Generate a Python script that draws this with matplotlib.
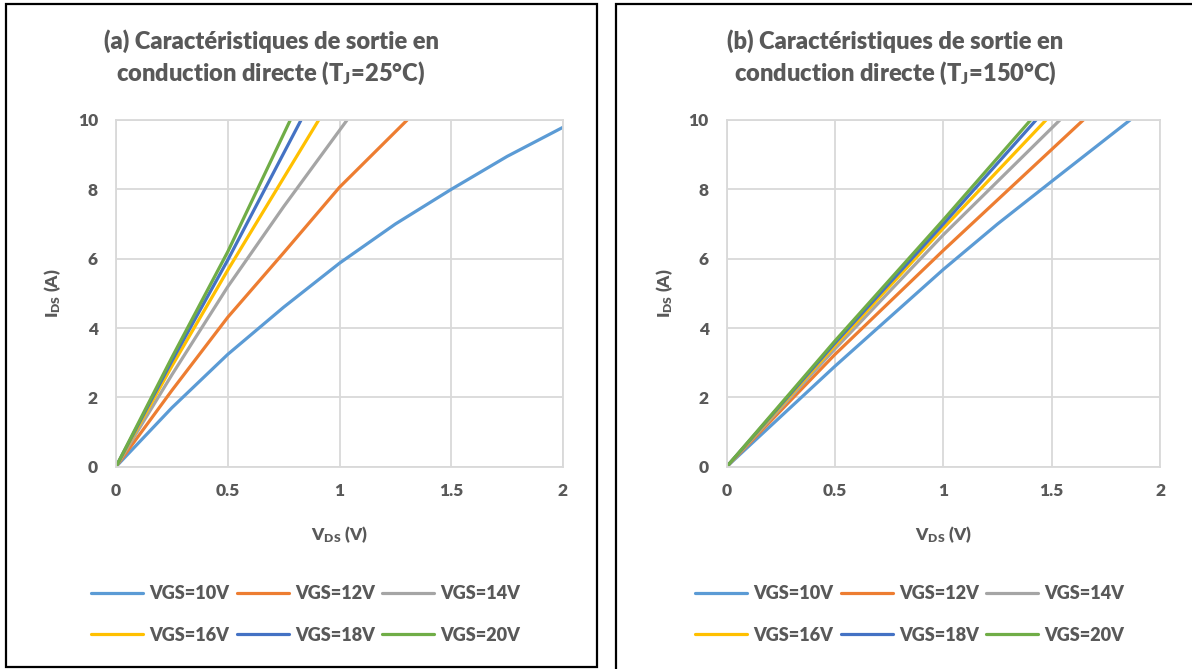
import matplotlib
matplotlib.use("Agg")
import matplotlib.pyplot as plt
from matplotlib.patches import Rectangle

plt.rcParams["font.family"] = ["Lato", "DejaVu Sans"]
plt.rcParams["font.weight"] = "heavy"
plt.rcParams["mathtext.default"] = "regular"

TEXT = "#595959"
GRID = "#d9d9d9"
WT = "heavy"

labels = ["VGS=10V", "VGS=12V", "VGS=14V", "VGS=16V", "VGS=18V", "VGS=20V"]
colors = ["#5B9BD5", "#ED7D31", "#A5A5A5", "#FFC000", "#4472C4", "#70AD47"]

# (a) Tj = 25 C  -- V_DS (V), I_DS (A)
v25_10 = [0, 0.25, 0.5, 0.75, 1.0, 1.25, 1.5, 1.75, 2.0]
i25_10 = [0, 1.7, 3.24, 4.6, 5.87, 7.0, 8.0, 8.95, 9.79]
v25_12 = [0, 0.25, 0.5, 0.75, 1.0, 1.303]
i25_12 = [0, 2.2, 4.31, 6.17, 8.06, 10.0]
v25_14 = [0, 0.25, 0.5, 0.75, 1.034]
i25_14 = [0, 2.65, 5.19, 7.5, 10.0]
v25_16 = [0, 0.25, 0.5, 0.75, 0.907]
i25_16 = [0, 2.9, 5.67, 8.33, 10.0]
v25_18 = [0, 0.25, 0.5, 0.828]
i25_18 = [0, 3.05, 5.96, 10.0]
v25_20 = [0, 0.25, 0.5, 0.78]
i25_20 = [0, 3.15, 6.2, 10.0]

# (b) Tj = 150 C
v150_10 = [0, 0.5, 1.0, 1.25, 1.5, 1.862]
i150_10 = [0, 2.9, 5.69, 7.0, 8.23, 10.0]
v150_12 = [0, 0.5, 1.0, 1.646]
i150_12 = [0, 3.24, 6.24, 10.0]
v150_14 = [0, 0.5, 1.0, 1.538]
i150_14 = [0, 3.4, 6.69, 10.0]
v150_16 = [0, 0.5, 1.0, 1.474]
i150_16 = [0, 3.5, 6.88, 10.0]
v150_18 = [0, 0.5, 1.0, 1.428]
i150_18 = [0, 3.57, 7.0, 10.0]
v150_20 = [0, 0.5, 1.0, 1.403]
i150_20 = [0, 3.63, 7.12, 10.0]

curves_25 = [(v25_10, i25_10), (v25_12, i25_12), (v25_14, i25_14),
             (v25_16, i25_16), (v25_18, i25_18), (v25_20, i25_20)]
curves_150 = [(v150_10, i150_10), (v150_12, i150_12), (v150_14, i150_14),
              (v150_16, i150_16), (v150_18, i150_18), (v150_20, i150_20)]

W, H = 1192, 669
fig = plt.figure(figsize=(W / 100, H / 100), dpi=100)


def px_axes(x0, x1, y_top, y_bot):
    return fig.add_axes([x0 / W, 1 - y_bot / H, (x1 - x0) / W, (y_bot - y_top) / H])


def setup(ax, curves, title, title_x, leg_x):
    lines = []
    for (v, i), c, lab in zip(curves, colors, labels):
        ln, = ax.plot(v, i, color=c, lw=2.3, label=lab, solid_capstyle="round")
        lines.append(ln)
    ax.set_xlim(0, 2)
    ax.set_ylim(0, 10)
    ax.set_xticks([0, 0.5, 1, 1.5, 2])
    ax.set_xticklabels(["0", "0.5", "1", "1.5", "2"], fontweight=WT)
    ax.set_yticks([0, 2, 4, 6, 8, 10])
    ax.set_yticklabels(["0", "2", "4", "6", "8", "10"], fontweight=WT)
    ax.grid(True, color=GRID, lw=1.3)
    ax.set_axisbelow(True)
    for s in ax.spines.values():
        s.set_color(GRID)
        s.set_linewidth(1.3)
    ax.tick_params(length=0, colors=TEXT, labelsize=12.5)
    ax.tick_params(axis="y", pad=13)
    ax.tick_params(axis="x", pad=12)
    ax.set_xlabel("V$_{DS}$ (V)", fontsize=12.5, color=TEXT, fontweight=WT)
    ax.set_ylabel("I$_{DS}$ (A)", fontsize=12.5, color=TEXT, fontweight=WT)
    ax.xaxis.set_label_coords(0.5, -0.165)
    ax.yaxis.set_label_coords(-0.119, 0.5)
    fig.text(title_x / W, 1 - 58 / H, title, ha="center", va="center",
             fontsize=17, color=TEXT, linespacing=1.35, fontweight=WT)
    # legend filled row by row
    order = [0, 3, 1, 4, 2, 5]
    ax.legend([lines[k] for k in order], [labels[k] for k in order],
              loc="upper left", bbox_to_anchor=(leg_x / W, 1 - 585 / H),
              bbox_transform=fig.transFigure, ncol=3, frameon=False,
              prop={"size": 13, "weight": WT}, labelcolor=TEXT,
              handlelength=2.9, handletextpad=0.33, columnspacing=0.4,
              labelspacing=1.36, borderpad=0, borderaxespad=0)


ax1 = px_axes(116, 563, 120, 466.7)
setup(ax1, curves_25,
      "(a) Caractéristiques de sortie en\nconduction directe (T$_J$=25°C)", 271, 91)

ax2 = px_axes(726.7, 1160, 120, 466.7)
setup(ax2, curves_150,
      "(b) Caractéristiques de sortie en\nconduction directe (T$_J$=150°C)", 895, 695)

# panel frames
fig.add_artist(Rectangle((6 / W, 1 - 667 / H), 591 / W, 663 / H,
                         transform=fig.transFigure, fill=False, ec="black", lw=1.6))
fig.add_artist(Rectangle((616 / W, 1 - 675 / H), 590 / W, 671 / H,
                         transform=fig.transFigure, fill=False, ec="black", lw=1.6))

fig.savefig("out.png", dpi=100)
